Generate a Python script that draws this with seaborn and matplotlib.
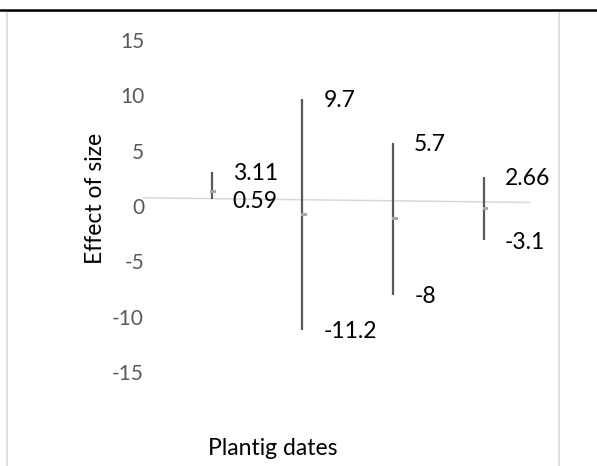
"""Effect of size per planting date, drawn as range bars."""

import numpy as np
import pandas as pd
import matplotlib
matplotlib.use("Agg")
import matplotlib.pyplot as plt
import seaborn as sns
from matplotlib.path import Path
from matplotlib.patches import Rectangle
from matplotlib.lines import Line2D

# values
dates = [0, 1, 2, 3]
upper = [3.11, 9.7, 5.7, 2.66]
lower = [0.59, -11.2, -8, -3.1]
means = [1.3, -0.75, -1.15, -0.22]
ref_x = [-0.76, 3.51]
ref_y = [0.74, 0.32]
y_ticks = [-15, -10, -5, 0, 5, 10, 15]

df = pd.DataFrame({"date": dates, "upper": upper, "lower": lower, "mean": means})

sns.set_style("white")
plt.rcParams["font.family"] = ["Lato", "DejaVu Sans"]

fig = plt.figure(figsize=(5.97, 4.66), dpi=100)
ax = fig.add_axes([0.2786, 0.2017, 0.608, 0.7125])

# outer frame and top rule
fig.patches.append(Rectangle((7 / 597, -0.1), 552 / 597, 1.1 - 11 / 466,
                             transform=fig.transFigure, fill=False,
                             edgecolor="#d9d9d9", linewidth=1.2))
fig.lines.append(Line2D([0, 1], [1 - 10 / 466, 1 - 10 / 466],
                        transform=fig.transFigure, color="black", linewidth=1.8))

# faint reference line
ax.plot(ref_x, ref_y, color="#d9d9d9", linewidth=1.1, clip_on=False, zorder=1)

ax.vlines(df["date"], df["lower"], df["upper"], color="#595959", linewidth=1.6, zorder=2)

dash = Path([(-0.3, -0.35), (1.0, -0.35), (1.0, 0.35), (-0.3, 0.35), (-0.3, -0.35)],
            [Path.MOVETO, Path.LINETO, Path.LINETO, Path.LINETO, Path.CLOSEPOLY])
sns.scatterplot(data=df, x="date", y="mean", marker=dash, s=40, color="#a6a6a6",
                edgecolor="none", ax=ax, zorder=3, legend=False)

for d, hi, lo in zip(dates, upper, lower):
    ax.annotate(f"{hi:g}", (d, hi), xytext=(21, -2), textcoords="offset pixels",
                ha="left", va="center", fontsize=16.5, color="black")
    ax.annotate(f"{lo:g}", (d, lo), xytext=(21, -2), textcoords="offset pixels",
                ha="left", va="center", fontsize=16.5, color="black")

ax.set_xlim(-0.5, 3.5)
ax.set_ylim(-15, 15)
ax.set_yticks(y_ticks)
ax.set_yticklabels([str(t) for t in y_ticks])
ax.set_xticks([])
ax.tick_params(axis="y", length=0, pad=16, labelsize=15, labelcolor="#595959")
ax.set_xlabel("")
ax.set_ylabel("")
for s in ax.spines.values():
    s.set_visible(False)
ax.patch.set_alpha(0)

fig.text(96 / 597, 1 - 198 / 466, "Effect of size", rotation=90, ha="center",
         va="center", fontsize=16.5, color="black")
fig.text(273 / 597, 1 - 455 / 466, "Plantig dates", ha="center", va="baseline",
         fontsize=16.5, color="black")

fig.savefig("out.png", dpi=100)
